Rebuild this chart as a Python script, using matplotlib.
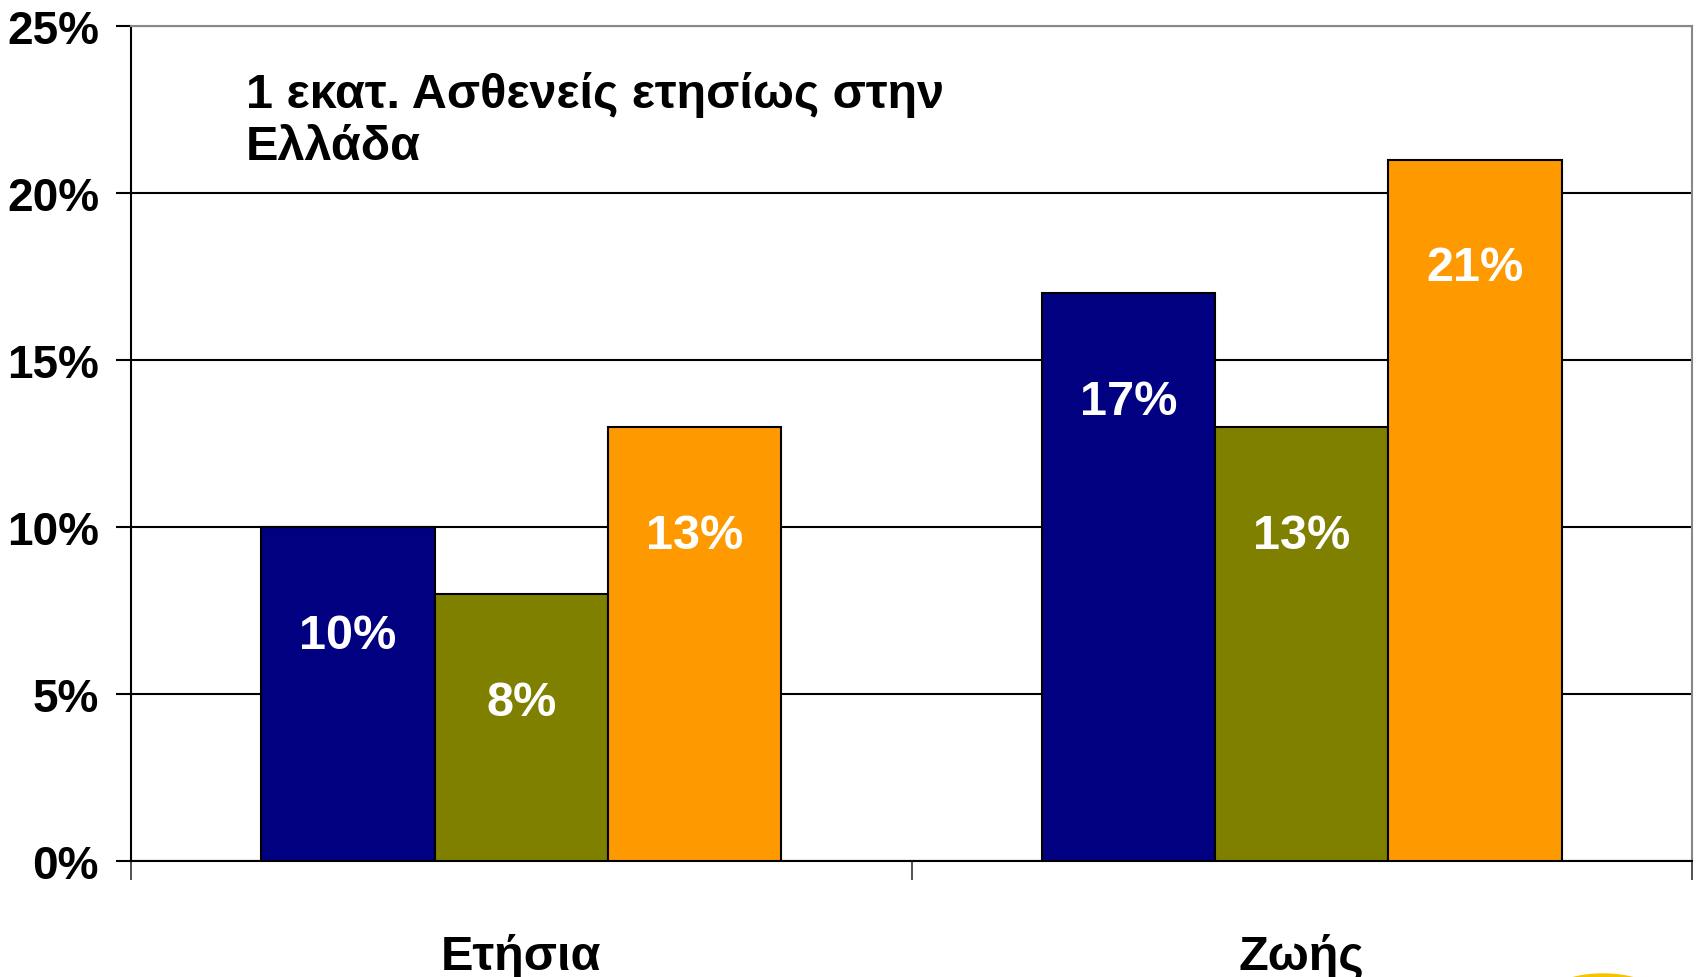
#!/usr/bin/env python3
"""Grouped bar chart: patients per year in Greece, by insurance type."""

import numpy as np
import matplotlib
matplotlib.use("Agg")
import matplotlib.pyplot as plt
from matplotlib.patches import Ellipse
from matplotlib.ticker import FuncFormatter

categories = ["Ετήσια", "Ζωής"]
series_a = [10, 17]
series_b = [8, 13]
series_c = [13, 21]
series_colors = ["#000080", "#808000", "#FF9900"]
title_text = "1 εκατ. Ασθενείς ετησίως στην\nΕλλάδα"
y_ticks = [0, 5, 10, 15, 20, 25]

FONT = ["Liberation Sans Narrow", "Liberation Sans", "DejaVu Sans"]
plt.rcParams["font.family"] = FONT

fig = plt.figure(figsize=(16.96, 9.78), dpi=100)
ax = fig.add_axes([131 / 1696, 1 - 862 / 978, (1692 - 131) / 1696, (862 - 27) / 978])

x = np.arange(len(categories))
width = 0.222
for i, (vals, col) in enumerate(zip([series_a, series_b, series_c], series_colors)):
    pos = x + (i - 1) * width
    ax.bar(pos, vals, width, color=col, edgecolor="black", linewidth=1.5, zorder=3)
    for px, v in zip(pos, vals):
        ax.annotate(f"{v}%", (px, v), xytext=(0, -78), textcoords="offset points",
                    ha="center", va="center", color="white", fontsize=35,
                    fontweight="bold", zorder=4)

ax.set_xlim(-0.5, 1.5)
ax.set_ylim(0, 25)
ax.set_yticks(y_ticks)
ax.yaxis.set_major_formatter(FuncFormatter(lambda v, p: f"{v:.0f}%"))
ax.tick_params(axis="y", length=11, width=1.5, labelsize=33, pad=12)
for lab in ax.get_yticklabels():
    lab.set_fontweight("bold")

ax.set_xticks([-0.5, 0.5, 1.5])
ax.set_xticklabels([])
ax.set_xticks(x, minor=True)
ax.set_xticklabels(categories, minor=True, fontsize=35, fontweight="bold")
ax.tick_params(axis="x", which="major", length=14, width=1.2, color="#333333")
ax.tick_params(axis="x", which="minor", length=0, pad=52)

ax.grid(axis="y", color="black", linewidth=1.5, zorder=1)
ax.set_axisbelow(True)
ax.spines["left"].set_linewidth(1.5)
ax.spines["bottom"].set_linewidth(1.5)
ax.spines["top"].set_color("#888888")
ax.spines["right"].set_color("#888888")
ax.spines["top"].set_linewidth(1.5)
ax.spines["right"].set_linewidth(1.5)

fig.text(246 / 1696, 1 - 72 / 978, title_text, fontsize=35, fontweight="bold",
         ha="left", va="top", linespacing=1.2)

# partial yellow logo at the bottom edge
logo = Ellipse((1603 / 1696, 1 - 990 / 978), 92 / 1696, 30 / 978,
               transform=fig.transFigure, color="#F5C400", clip_on=False)
fig.patches.append(logo)

fig.savefig("out.png", dpi=100)
